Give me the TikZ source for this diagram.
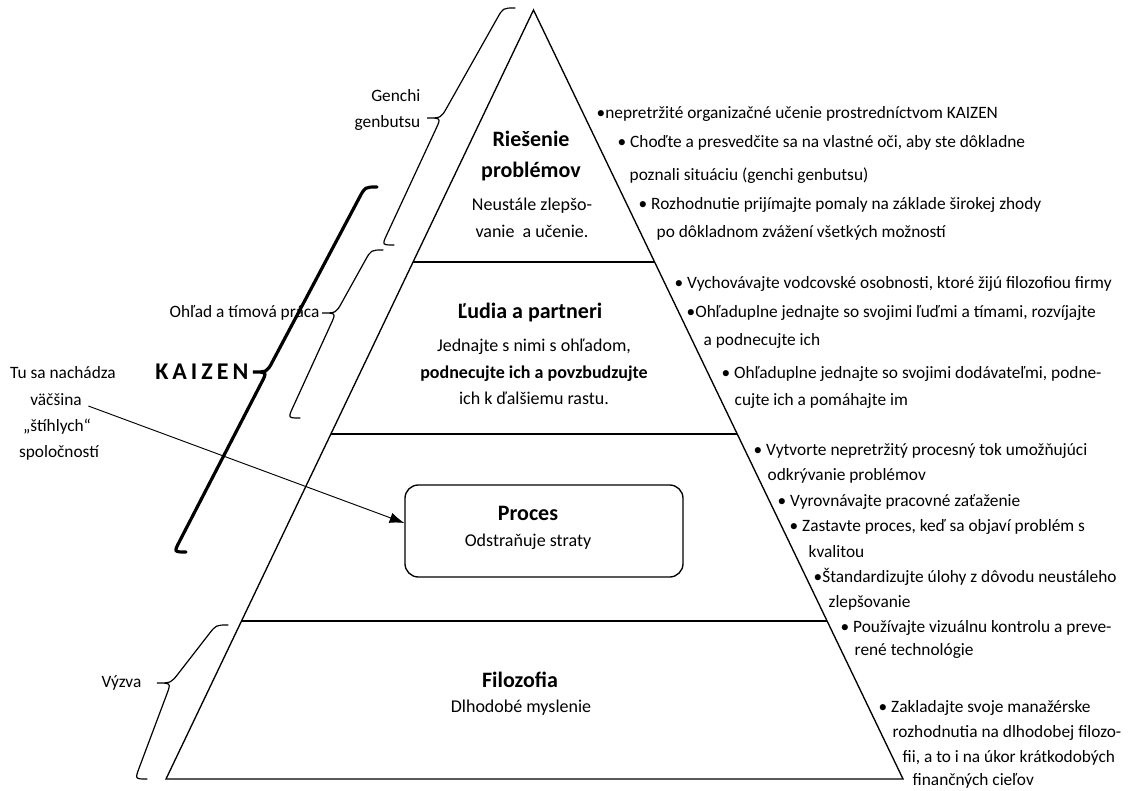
\documentclass[tikz,border=0pt]{standalone}
\usepackage{fontspec}
\setmainfont{Carlito}
\usetikzlibrary{arrows.meta,calc}

% slanted curly brace: top end, tip, bottom end
\newcommand{\slbrace}[4][]{%
  \coordinate (bt) at #2; \coordinate (bp) at #3; \coordinate (bb) at #4;
  \coordinate (bq1) at ($(bt)+(-12,0)$);
  \coordinate (bm) at ($(bp)+(14,0)$);
  \coordinate (bq2) at ($(bb)+(-12,0)$);
  \draw[brace,#1] (bt) .. controls (bq1) .. ($(bq1)!9pt!(bm)$)
    -- ($(bm)!9pt!(bq1)$) .. controls (bm) .. (bp)
    .. controls (bm) .. ($(bm)!9pt!(bq2)$)
    -- ($(bq2)!9pt!(bm)$) .. controls (bq2) .. (bb);
}

\tikzset{
  txt/.style={inner sep=0pt,font=\fontsize{13}{19.5}\selectfont},
  tier/.style={inner sep=0pt,font=\fontsize{16.5}{23}\selectfont\bfseries,align=center},
  tiertxt/.style={inner sep=0pt,font=\fontsize{13.5}{20}\selectfont,align=center},
  rule/.style={txt,anchor=base west},
  side/.style={txt,anchor=east},
  brace/.style={line width=.9pt,line cap=round},
  procbox/.style={draw,line width=1pt,rounded corners=10pt,
    minimum width=208.5pt,minimum height=69pt},
}

\begin{document}
\begin{tikzpicture}[x=.75pt,y=-.75pt,line width=1pt]
\useasboundingbox (0,0) rectangle (1134,791);

% pyramid
\coordinate (apex) at (533.5,10);
\coordinate (bl) at (166,779);
\coordinate (br) at (903,779);
\draw (bl) -- (apex) -- (br) -- cycle;
\draw ($(apex)!0.3277!(bl)$) -- ($(apex)!0.3277!(br)$);
\draw ($(apex)!0.5514!(bl)$) -- ($(apex)!0.5514!(br)$);
\draw ($(apex)!0.7945!(bl)$) -- ($(apex)!0.7945!(br)$);

% tiers
\node[tier] (ries) at (531,156) {Riešenie\\problémov};
\node[tiertxt] (riesd) at (532,218) {Neustále zlepšo-\\vanie\ \ a učenie.};
\node[tier] (ludia) at (530,313) {Ľudia a partneri};
\node[tiertxt] (ludiad) at (534,372) {Jednajte s nimi s ohľadom,\\
  \textbf{podnecujte ich a povzbudzujte}\\ich k ďalšiemu rastu.};
\node[procbox] (procbox) at (544,531) {};
\node[tier] (proces) at (528,513) {Proces};
\node[tiertxt] (procesd) at (528,542) {Odstraňuje straty};
\node[tier] (filo) at (520,680) {Filozofia};
\node[tiertxt] (filod) at (521,708) {Dlhodobé myslenie};

% braces
\slbrace{(515,8)}{(427,118)}{(394,245)}
\slbrace[line width=2.4pt]{(377,187)}{(253,372)}{(186,552)}
\slbrace{(383,250)}{(322,313)}{(300,418)}
\slbrace{(228,625)}{(157,683)}{(147,779)}

% labels on the left
\node[side,align=right] (genchi) at (421,110) {Genchi\\genbutsu};
\node[side] (ohlad) at (320,313) {Ohľad a tímová práca};
\node[inner sep=0pt,anchor=east,font=\fontsize{18}{20}\selectfont\bfseries] (kaizen) at (249,372)
  {K\hspace{3pt}A\hspace{3pt}I\hspace{3pt}Z\hspace{3pt}E\hspace{3pt}N};
\node[side] (vyzva) at (142,683) {Výzva};
\node[txt] (tu) at (63,373) {Tu sa nachádza};
\node[txt] (vacsina) at (56,400) {väčšina};
\node[txt] (stihlych) at (57,427) {„štíhlych“};
\node[txt] (spol) at (59,453) {spoločností};
\draw[-{Latex[length=11pt,width=8pt]},line width=.7pt]
  ([shift={(6,6)}]vacsina.east) -- ([yshift=6pt]procbox.west);

% rules on the right
\node[rule] (r1) at (596,119) {•nepretržité organizačné učenie prostredníctvom KAIZEN};
\node[rule] (r2) at (617,148) {• Choďte a presvedčite sa na vlastné oči, aby ste dôkladne};
\node[rule] (r3) at (629,181) {poznali situáciu (genchi genbutsu)};
\node[rule] (r4) at (638,210) {• Rozhodnutie prijímajte pomaly na základe širokej zhody};
\node[rule] (r5) at (656,238) {po dôkladnom zvážení všetkých možností};
\node[rule] (r6) at (674,289) {• Vychovávajte vodcovské osobnosti, ktoré žijú filozofiou firmy};
\node[rule] (r7) at (686,318) {•Ohľaduplne jednajte so svojimi ľuďmi a tímami, rozvíjajte};
\node[rule] (r8) at (703,345) {a podnecujte ich};
\node[rule] (r9) at (721,378) {• Ohľaduplne jednajte so svojimi dodávateľmi, podne-};
\node[rule] (r10) at (734,405) {cujte ich a pomáhajte im};
\node[rule] (r11) at (753,455) {• Vytvorte nepretržitý procesný tok umožňujúci};
\node[rule] (r12) at (767,480) {odkrývanie problémov};
\node[rule] (r13) at (777,506) {• Vyrovnávajte pracovné zaťaženie};
\node[rule] (r14) at (789,531) {• Zastavte proces, keď sa objaví problém s};
\node[rule] (r15) at (808,557) {kvalitou};
\node[rule] (r16) at (813,582) {•Štandardizujte úlohy z dôvodu neustáleho};
\node[rule] (r17) at (828,607) {zlepšovanie};
\node[rule] (r18) at (840,632) {• Používajte vizuálnu kontrolu a preve-};
\node[rule] (r19) at (854,655) {rené technológie};
\node[rule] (r20) at (878,712) {• Zakladajte svoje manažérske};
\node[rule] (r21) at (892,737) {rozhodnutia na dlhodobej filozo-};
\node[rule] (r22) at (902,762) {fii, a to i na úkor krátkodobých};
\node[rule] (r23) at (912,785) {finančných cieľov};
\end{tikzpicture}
\end{document}
